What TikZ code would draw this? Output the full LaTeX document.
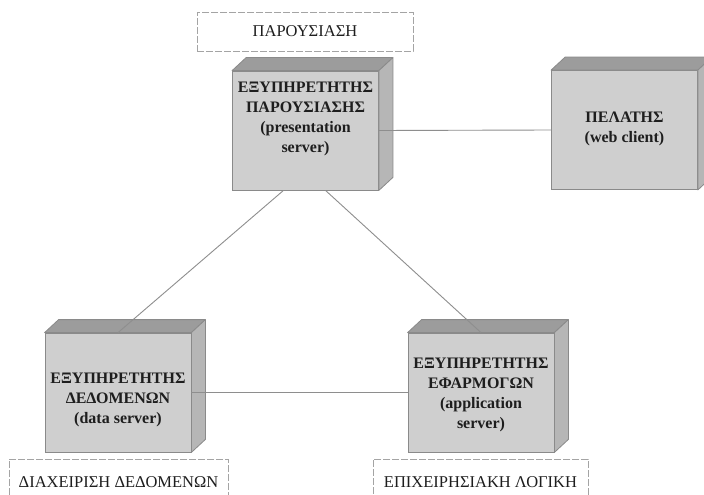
\documentclass[tikz,border=0pt]{standalone}
\usepackage{fontspec}
\setmainfont{Liberation Serif}
\definecolor{frontgray}{HTML}{CFCFCF}
\definecolor{topgray}{HTML}{9C9C9C}
\definecolor{sidegray}{HTML}{B6B6B6}
\definecolor{edgegray}{HTML}{8A8A8A}
\definecolor{wiregray}{HTML}{8E8E8E}
\definecolor{dashgray}{HTML}{A4A4A4}
\definecolor{inkgray}{HTML}{1E1E1E}
% draws the top and right faces of a 3-D node box
\newcommand\boxfaces[1]{%
  \filldraw[fill=topgray, draw=edgegray, line width=0.8pt, line join=round]
    (#1.north west) -- ++(14,-13) -- ([shift={(14,-13)}]#1.north east)
    -- (#1.north east) -- cycle;
  \filldraw[fill=sidegray, draw=edgegray, line width=0.8pt, line join=round]
    (#1.north east) -- ++(14,-13) -- ([shift={(14,-13)}]#1.south east)
    -- (#1.south east) -- cycle;
}
\begin{document}
\begin{tikzpicture}[x=1pt, y=-1pt,
  frontface/.style={draw=edgegray, fill=frontgray, line width=0.8pt,
    minimum width=146pt, minimum height=119pt, inner sep=0pt},
  boxtext/.style={align=center, text=inkgray,
    font=\fontsize{16}{20}\selectfont\bfseries},
  labelbox/.style={draw=dashgray, line width=0.8pt, dash pattern=on 7pt off 2pt,
    text=inkgray, font=\fontsize{16.5}{20}\selectfont, inner sep=0pt},
  wire/.style={draw=wiregray, line width=0.9pt}]
\useasboundingbox[fill=white] (0,0) rectangle (704,495);

% front faces of the four nodes
\node[frontface] (pres)   at (305.5,130.5) {};
\node[frontface] (client) at (624.5,130)   {};
\node[frontface] (data)   at (118,392.5)   {};
\node[frontface] (app)    at (481,392.5)   {};
\boxfaces{pres}
\boxfaces{client}
\boxfaces{data}
\boxfaces{app}

% node captions
\node[boxtext] (presT)   at ([yshift=12pt]pres.center)
  {ΕΞΥΠΗΡΕΤΗΤΗΣ\\ΠΑΡΟΥΣΙΑΣΗΣ\\(presentation\\server)};
\node[boxtext] (clientT) at ([yshift=1pt]client.center)
  {ΠΕΛΑΤΗΣ\\(web client)};
\node[boxtext] (dataT)   at ([yshift=-7pt]data.center)
  {ΕΞΥΠΗΡΕΤΗΤΗΣ\\ΔΕΔΟΜΕΝΩΝ\\(data server)};
\node[boxtext] (appT)    at ([yshift=-2pt]app.center)
  {ΕΞΥΠΗΡΕΤΗΤΗΣ\\ΕΦΑΡΜΟΓΩΝ\\(application\\server)};

% tier labels
\node[labelbox, minimum width=216pt, minimum height=39pt] (tierPres)
  at (305,31.5) {ΠΑΡΟΥΣΙΑΣΗ};
\node[labelbox, minimum width=219pt, minimum height=46pt] (tierData)
  at (118.5,482) {ΔΙΑΧΕΙΡΙΣΗ ΔΕΔΟΜΕΝΩΝ};
\node[labelbox, minimum width=215pt, minimum height=46pt] (tierApp)
  at (480.5,482) {ΕΠΙΧΕΙΡΗΣΙΑΚΗ ΛΟΓΙΚΗ};

% connections
\draw[wire] (pres.east) -- (client.west);
\draw[wire] ([xshift=-22pt]pres.south) -- (data.north);
\draw[wire] ([xshift=20pt]pres.south) -- (app.north);
\draw[wire] (data.east) -- (app.west);
\end{tikzpicture}
\end{document}
